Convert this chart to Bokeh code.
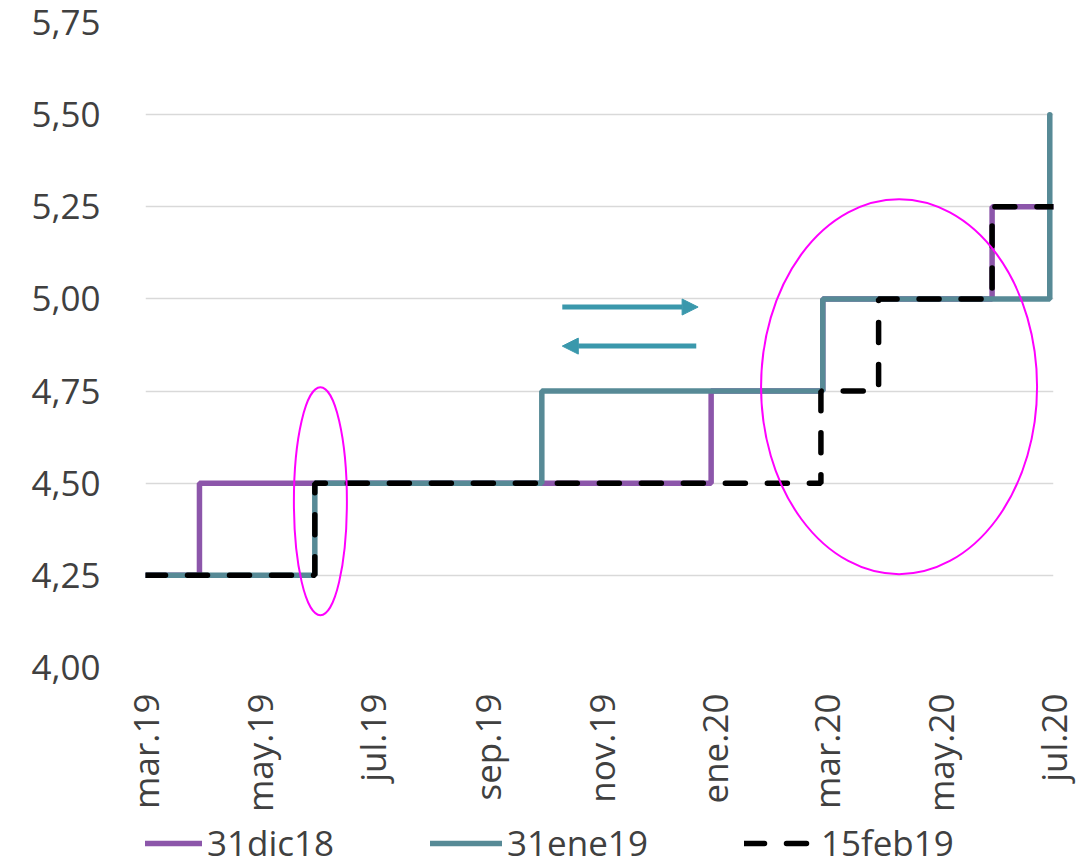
import pandas as pd
from bokeh.plotting import figure
from bokeh.layouts import column
from bokeh.models import (Range1d, FixedTicker, CustomJSTickFormatter, Arrow, NormalHead,
                          Legend, LegendItem)
from bokeh.embed import file_html
from bokeh.resources import INLINE

# ---- data ----
dates_dic18 = ["2019-03-01", "2019-03-30", "2019-12-30", "2020-02-28", "2020-05-29", "2020-07-01"]
rate_dic18 = [4.25, 4.50, 4.75, 5.00, 5.25, 5.25]

dates_ene19 = ["2019-03-01", "2019-05-31", "2019-09-30", "2020-02-28", "2020-06-29"]
rate_ene19 = [4.25, 4.50, 4.75, 5.00, 5.50]

dates_feb19 = ["2019-03-01", "2019-05-31", "2020-02-27", "2020-03-29", "2020-05-29", "2020-07-01"]
rate_feb19 = [4.25, 4.50, 4.75, 5.00, 5.25, 5.25]

series_names = ["31dic18", "31ene19", "15feb19"]

x_tick_dates = ["2019-03-01", "2019-05-01", "2019-07-01", "2019-09-01", "2019-11-01",
                "2020-01-01", "2020-03-01", "2020-05-01", "2020-07-01"]
x_tick_labels = ["mar.19", "may.19", "jul.19", "sep.19", "nov.19",
                 "ene.20", "mar.20", "may.20", "jul.20"]
y_ticks = [4.00, 4.25, 4.50, 4.75, 5.00, 5.25, 5.50, 5.75]

# ---- styles ----
FONT = "Open Sans"
TXT = "#404040"
PURPLE = "#8C56AA"
TEAL = "#578A96"
ARROW_C = "#3A98AC"
MAGENTA = "#FF00FF"
FS = "35px"
STYLES = [dict(line_color=PURPLE, line_width=5.5, line_cap="round"),
          dict(line_color=TEAL, line_width=5.5, line_cap="round"),
          dict(line_color="black", line_width=5.5, line_dash="20 22", line_cap="round")]


def ms(d):
    return pd.Timestamp(d).value // 10**6


p = figure(width=1087, height=816, output_backend="svg", toolbar_location=None,
           x_range=Range1d(ms("2019-03-01"), ms("2020-07-01")),
           y_range=Range1d(4.0, 5.75),
           min_border_left=145, min_border_right=34, min_border_top=22, min_border_bottom=149)
p.outline_line_color = None
p.background_fill_color = "white"

# axes
p.xaxis.ticker = FixedTicker(ticks=[ms(d) for d in x_tick_dates])
p.xaxis.formatter = CustomJSTickFormatter(
    args=dict(tick_ms=[ms(d) for d in x_tick_dates], tick_labels=x_tick_labels), code="""
let best = 0, bd = Infinity;
for (let i = 0; i < tick_ms.length; i++) { const d = Math.abs(tick_ms[i] - tick); if (d < bd) { bd = d; best = i; } }
return tick_labels[best];
""")
p.xaxis.major_label_orientation = 3.14159265 / 2
p.yaxis.ticker = FixedTicker(ticks=y_ticks)
p.yaxis.formatter = CustomJSTickFormatter(code="return tick.toFixed(2).replace('.', ',');")
for ax in (p.xaxis[0], p.yaxis[0]):
    ax.axis_line_color = None
    ax.major_tick_line_color = None
    ax.minor_tick_line_color = None
    ax.major_tick_out = 0
    ax.major_tick_in = 0
    ax.major_label_text_font = FONT
    ax.major_label_text_font_size = FS
    ax.major_label_text_color = TXT
p.yaxis.major_label_standoff = 45
p.xaxis.major_label_standoff = 26

p.xgrid.grid_line_color = None
p.ygrid.grid_line_color = "#D9D9D9"
p.ygrid.grid_line_width = 1.5

# series
all_dates = [dates_dic18, dates_ene19, dates_feb19]
all_rates = [rate_dic18, rate_ene19, rate_feb19]
for dts, vals, st in zip(all_dates, all_rates, STYLES):
    p.step([ms(d) for d in dts], vals, mode="after", **st)

# annotations: ellipses
p.ellipse(x=[ms("2019-06-03"), ms("2020-04-09")], y=[4.451, 4.762],
          width=[53, 276], height=[228, 375], width_units="screen", height_units="screen",
          fill_color=None, line_color=MAGENTA, line_width=2)

# annotations: arrows
p.add_layout(Arrow(x_start=ms("2019-10-11"), y_start=4.978, x_end=ms("2019-12-23"), y_end=4.978,
                   line_color=ARROW_C, line_width=5,
                   end=NormalHead(size=16, fill_color=ARROW_C, line_color=ARROW_C)))
p.add_layout(Arrow(x_start=ms("2019-12-22"), y_start=4.872, x_end=ms("2019-10-11"), y_end=4.872,
                   line_color=ARROW_C, line_width=5,
                   end=NormalHead(size=16, fill_color=ARROW_C, line_color=ARROW_C)))

# legend strip (separate small figure under the chart; its frame aligns with the chart's)
pl = figure(width=1087, height=50, output_backend="svg", toolbar_location=None,
            x_axis_location=None, y_axis_location=None,
            min_border_left=0, min_border_right=0, min_border_top=0, min_border_bottom=0)
pl.outline_line_color = None
pl.grid.grid_line_color = None
items = []
for name, st in zip(series_names, STYLES):
    r = pl.line(x=[float("nan")], y=[float("nan")], **st)
    items.append(LegendItem(label=name, renderers=[r]))
lg = Legend(items=items, orientation="horizontal", location=(-15, 0), padding=0, margin=0,
            spacing=96, glyph_width=72, glyph_height=20, label_standoff=5,
            label_text_font=FONT, label_text_font_size=FS, label_text_color=TXT,
            border_line_color=None, background_fill_alpha=0)
pl.add_layout(lg)

open("out.html", "w").write(file_html(column(p, pl, spacing=0), INLINE))
